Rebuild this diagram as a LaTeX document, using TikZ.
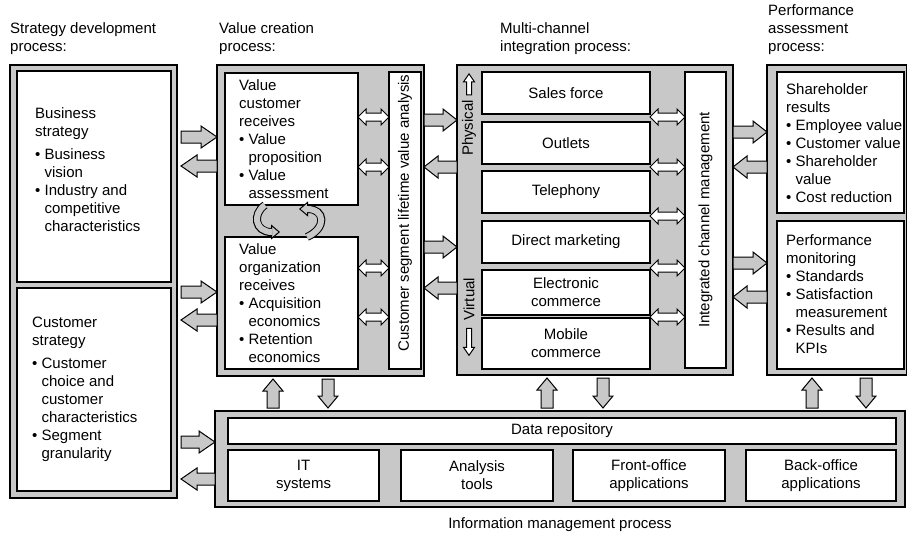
\documentclass[tikz,border=0pt]{standalone}
\usepackage{fontspec}
\setmainfont{Liberation Sans}
\usetikzlibrary{calc,positioning,arrows.meta}
\definecolor{fillgray}{RGB}{200,200,200}
\newcommand{\bul}{\textbullet\ }
\newcommand{\ind}{\hphantom{\textbullet\ }}
\newcommand{\blkarrow}[6][fillgray]{%
  \path #2 coordinate (bS) #3 coordinate (bT);
  \path ($(bT)!#6!(bS)$) coordinate (bH);
  \draw[arrowline, fill=#1] ($(bS)!#4!90:(bT)$) -- ($(bH)!#4!-90:(bS)$) -- ($(bH)!#5!-90:(bS)$) -- (bT)
    -- ($(bH)!#5!90:(bS)$) -- ($(bH)!#4!90:(bS)$) -- ($(bS)!#4!-90:(bT)$) -- cycle;}
\newcommand{\dblarrow}[5]{%
  \path #1 coordinate (dS) #2 coordinate (dT);
  \path ($(dS)!#5!(dT)$) coordinate (dA) ($(dT)!#5!(dS)$) coordinate (dB);
  \draw[arrowline, fill=white] (dS) -- ($(dA)!#4!90:(dT)$) -- ($(dA)!#3!90:(dT)$) -- ($(dB)!#3!-90:(dS)$)
    -- ($(dB)!#4!-90:(dS)$) -- (dT) -- ($(dB)!#4!90:(dS)$) -- ($(dB)!#3!90:(dS)$)
    -- ($(dA)!#3!-90:(dT)$) -- ($(dA)!#4!-90:(dT)$) -- cycle;}
\tikzset{
  panel/.style={draw, fill=fillgray, line width=1.2pt, anchor=north west, inner sep=0pt, outer sep=0pt},
  box/.style={draw, fill=white, line width=1.1pt, anchor=north west, inner sep=0pt, outer sep=0pt,
    align=center, font=\fontsize{15}{18}\selectfont},
  boxsize/.style 2 args={minimum width=#1, minimum height=#2},
  txt/.style={inner sep=0pt, align=left, font=\fontsize{15}{18}\selectfont},
  arrowline/.style={draw=black, line width=1pt, line join=miter},
  swirlout/.style={line width=8pt, draw=black, -{Triangle[length=9pt, width=15pt, fill=fillgray, line width=1pt]}},
  swirlin/.style={line width=6pt, draw=fillgray, shorten >=8pt},
}
\begin{document}
\begin{tikzpicture}[x=1pt, y=-1pt]
\useasboundingbox (0,0) rectangle (907,533);
\path
  (10,22) node(h1) [txt, anchor=north west] {Strategy development\\process:}
  (219,22) node(h2) [txt, anchor=north west] {Value creation\\process:}
  (500,22) node(h3) [txt, anchor=north west] {Multi-channel\\integration process:}
  (768,4) node(h4) [txt, anchor=north west] {Performance\\assessment\\process:};
\path
  (10,65) node(sdp) [panel, boxsize={167}{433}] {}
  (217,65) node(vcp) [panel, boxsize={207}{311}] {}
  (457,65) node(mcp) [panel, boxsize={276}{310}] {}
  (767,65) node(pap) [panel, boxsize={140}{310}] {}
  (215,411) node(imp) [panel, boxsize={690}{96}] {};
\path
  (17,71) node(bsb) [box, boxsize={154}{211}] {}
  (17,288) node(csb) [box, boxsize={154}{203}] {}
  (225,73) node(vcb1) [box, boxsize={133}{132}] {}
  (225,237) node(vcb2) [box, boxsize={133}{132}] {}
  (389,72) node(slv) [box, boxsize={32}{297}] {}
  (482,72) node(ch1) [box, boxsize={168}{42}] {Sales force}
  (482,122) node(ch2) [box, boxsize={168}{42}] {Outlets}
  (482,171) node(ch3) [box, boxsize={168}{42}] {Telephony}
  (482,221) node(ch4) [box, boxsize={168}{42}] {Direct marketing}
  (482,270) node(ch5) [box, boxsize={168}{45}] {Electronic\\commerce}
  (482,318) node(ch6) [box, boxsize={168}{51}] {Mobile\\commerce}
  (685,72) node(icm) [box, boxsize={41}{296}] {}
  (777,72) node(shb) [box, boxsize={127}{141}] {}
  (777,221) node(pmb) [box, boxsize={127}{148}] {}
  (228,418) node(drb) [box, boxsize={668}{26}] {Data repository}
  (228,450) node(itb) [box, boxsize={151}{51}] {IT\\systems}
  (401,450) node(atb) [box, boxsize={152}{51}] {Analysis\\tools}
  (573,450) node(fob) [box, boxsize={152}{51}] {Front-office\\applications}
  (746,450) node(bob) [box, boxsize={150}{51}] {Back-office\\applications};
\node[txt, anchor=north west] (bst) at ([shift={(18,36.5)}]bsb.north west)
  {Business\\strategy\\[5pt]\bul Business\\\ind vision\\\bul Industry and\\\ind competitive\\\ind characteristics};
\node[txt, anchor=north west] (cst) at ([shift={(15,28.5)}]csb.north west)
  {Customer\\strategy\\[5pt]\bul Customer\\\ind choice and\\\ind customer\\\ind characteristics\\\bul Segment\\\ind granularity};
\node[txt, anchor=north west] (vct1) at ([shift={(14,6)}]vcb1.north west)
  {Value\\customer\\receives\\\bul Value\\\ind proposition\\\bul Value\\\ind assessment};
\node[txt, anchor=north west] (vct2) at ([shift={(14,6)}]vcb2.north west)
  {Value\\organization\\receives\\\bul Acquisition\\\ind economics\\\bul Retention\\\ind economics};
\node[txt, anchor=north west] (sht) at ([shift={(9,11)}]shb.north west)
  {Shareholder\\results\\\bul Employee value\\\bul Customer value\\\bul Shareholder\\\ind value\\\bul Cost reduction};
\node[txt, anchor=north west] (pmt) at ([shift={(9,13)}]pmb.north west)
  {Performance\\monitoring\\\bul Standards\\\bul Satisfaction\\\ind measurement\\\bul Results and\\\ind KPIs};
\node[txt, rotate=90] (slvt) at (405,213) {Customer segment lifetime value analysis};
\node[txt, rotate=90] (icmt) at (icm) {Integrated channel management};
\node[txt, rotate=90] (phy) at (469,128) {Physical};
\node[txt, rotate=90] (vir) at (469,299) {Virtual};
\node[txt, anchor=north] (imt) at (560,517) {Information management process};
\foreach \y in {137,292} {
  \blkarrow{([xshift=4pt]sdp.east |- 0,\y)}{(vcp.west |- 0,\y)}{6pt}{11pt}{16pt}}
\foreach \y in {166,320} {
  \blkarrow{(vcp.west |- 0,\y)}{([xshift=4pt]sdp.east |- 0,\y)}{6pt}{11pt}{16pt}}
\blkarrow{([xshift=4pt]sdp.east |- 0,442)}{(imp.west |- 0,442)}{6pt}{11pt}{16pt}
\blkarrow{(imp.west |- 0,479)}{([xshift=4pt]sdp.east |- 0,479)}{6pt}{11pt}{16pt}
\foreach \y in {120,247} {
  \blkarrow{(vcp.east |- 0,\y)}{(mcp.west |- 0,\y)}{6pt}{11pt}{14pt}}
\foreach \y in {167,288} {
  \blkarrow{(mcp.west |- 0,\y)}{(vcp.east |- 0,\y)}{6pt}{11pt}{14pt}}
\foreach \y in {132,263} {
  \blkarrow{(mcp.east |- 0,\y)}{(pap.west |- 0,\y)}{6pt}{11pt}{14pt}}
\foreach \y in {167,297} {
  \blkarrow{(pap.west |- 0,\y)}{(mcp.east |- 0,\y)}{6pt}{11pt}{14pt}}
\foreach \u/\d/\p in {273/328/vcp, 547/603/mcp, 812/866/pap} {
  \blkarrow{([yshift=3pt]imp.north -| \u,0)}{([yshift=-3pt]\p.south -| \u,0)}{6pt}{10pt}{12pt}
  \blkarrow{([yshift=-3pt]\p.south -| \d,0)}{([yshift=3pt]imp.north -| \d,0)}{6pt}{10pt}{12pt}}
\foreach \y in {117,167,268,317} {
  \dblarrow{(vcb1.east |- 0,\y)}{(slv.west |- 0,\y)}{4pt}{8pt}{8pt}}
\foreach \y in {117,167,216,268,317} {
  \dblarrow{(ch1.east |- 0,\y)}{(icm.west |- 0,\y)}{4pt}{8pt}{8pt}}
\blkarrow[white]{([yshift=5pt]phy.east)}{([yshift=26pt]phy.east)}{2.5pt}{5.5pt}{8pt}
\blkarrow[white]{([yshift=-8pt]vir.west)}{([yshift=-35pt]vir.west)}{2.5pt}{5.5pt}{8pt}
\draw[swirlout] ([xshift=-26.5pt]vcb1.south) .. controls (252,214) and (255,232) .. (280,232);
\draw[swirlin] ([xshift=-26.5pt]vcb1.south) .. controls (252,214) and (255,232) .. (280,232);
\draw[swirlout] ([xshift=15.5pt]vcb2.north) .. controls (327,228) and (325,209) .. (299,209);
\draw[swirlin] ([xshift=15.5pt]vcb2.north) .. controls (327,228) and (325,209) .. (299,209);
\end{tikzpicture}
\end{document}
